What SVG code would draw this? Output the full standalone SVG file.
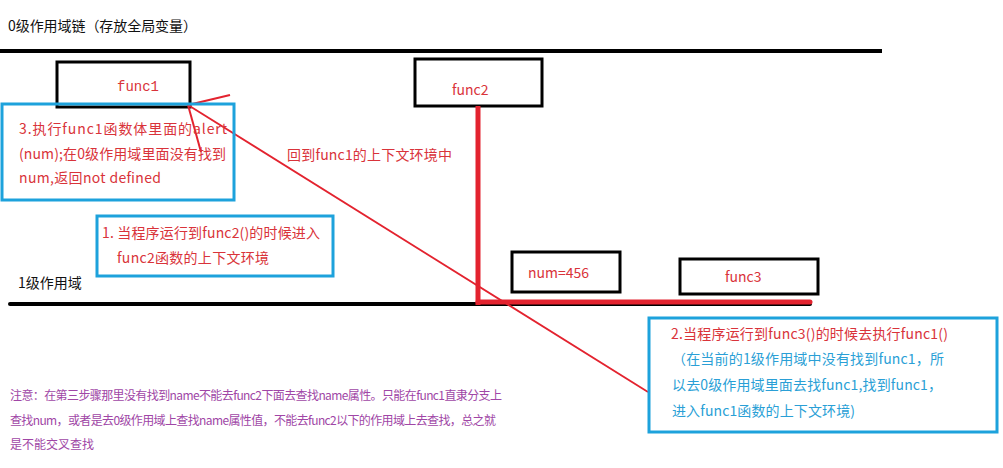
<svg xmlns="http://www.w3.org/2000/svg" width="1003" height="468" viewBox="0 0 1003 468">
<style>
text{font-family:"Noto Sans CJK SC","Noto Sans",sans-serif;font-size:14px}
.blk{fill:#111}
.red{fill:#d9333a}
.blu{fill:#2a9fd6}
.pur{fill:#a046a6;font-size:12px}
.box{fill:#fff;stroke:#000;stroke-width:3}
.note{fill:none;stroke:#1da2dc;stroke-width:3}
.mono{font-family:"Liberation Mono","DejaVu Sans Mono",monospace;font-size:14px}
</style>
<rect width="1003" height="468" fill="#fff"/>
<text class="blk" x="8" y="31" textLength="189">0级作用域链（存放全局变量）</text>
<g id="scopes">
<line x1="0" y1="51" x2="882" y2="51" stroke="#000" stroke-width="4"/>
<line x1="10" y1="304" x2="810" y2="304" stroke="#000" stroke-width="4" stroke-linecap="round"/>
<text class="blk" x="18" y="288">1级作用域</text>
</g>
<g id="func1"><rect class="box" x="57" y="62" width="133" height="45"/><text class="red mono" x="117" y="91">func1</text></g>
<g id="func2"><rect class="box" x="415" y="59" width="127" height="47"/><text class="red" x="452" y="95">func2</text></g>
<g id="num"><rect class="box" x="512" y="252" width="108" height="40"/><text class="red" x="528" y="278">num=456</text></g>
<g id="func3"><rect class="box" x="680" y="259" width="138" height="35"/><text class="red" x="725" y="282">func3</text></g>
<g id="connectors" stroke="#e3232f" fill="none">
<line x1="478" y1="106" x2="478" y2="305" stroke-width="5"/>
<line x1="478" y1="302" x2="810" y2="302" stroke-width="5" stroke-linecap="round"/>
<line x1="188" y1="105" x2="648" y2="392" stroke-width="1.8"/>
<line x1="188" y1="105" x2="230" y2="95" stroke-width="2"/>
<line x1="188" y1="105" x2="201" y2="152" stroke-width="2"/>
</g>
<g id="note3">
<rect class="note" x="2" y="104" width="232" height="96"/>
<text class="red" x="19" y="134" textLength="208">3.执行func1函数体里面的alert</text>
<text class="red" x="19" y="159" textLength="207">(num);在0级作用域里面没有找到</text>
<text class="red" x="19" y="183" textLength="142">num,返回not defined</text>
</g>
<text id="back" class="red" x="287" y="160" textLength="165">回到func1的上下文环境中</text>
<g id="note1">
<rect class="note" x="97" y="216" width="236" height="60"/>
<text class="red" x="102" y="238" textLength="218">1. 当程序运行到func2()的时候进入</text>
<text class="red" x="117" y="263" textLength="152">func2函数的上下文环境</text>
</g>
<g id="note2">
<rect class="note" x="649" y="318" width="348" height="114"/>
<text class="red" x="671" y="339" textLength="277">2.当程序运行到func3()的时候去执行func1()</text>
<text class="blu" x="672" y="364" textLength="272">（在当前的1级作用域中没有找到func1，所</text>
<text class="blu" x="672" y="390" textLength="270">以去0级作用域里面去找func1,找到func1，</text>
<text class="blu" x="672" y="416" textLength="183">进入func1函数的上下文环境)</text>
</g>
<g id="remark">
<text class="pur" x="10" y="400" textLength="492">注意：在第三步骤那里没有找到name不能去func2下面去查找name属性。只能在func1直隶分支上</text>
<text class="pur" x="10" y="425" textLength="486">查找num，或者是去0级作用域上查找name属性值，不能去func2以下的作用域上去查找，总之就</text>
<text class="pur" x="10" y="449">是不能交叉查找</text>
</g>
</svg>
